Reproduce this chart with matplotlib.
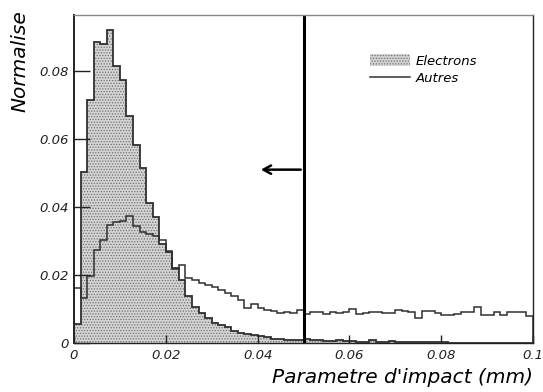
import numpy as np
import matplotlib
matplotlib.use("Agg")
import matplotlib.pyplot as plt
from matplotlib.patches import Patch
from matplotlib.lines import Line2D

# 70 bins from 0 to 0.1 mm
bord_bins = np.linspace(0, 0.1, 71)

electrons = [
    0.0055, 0.0502, 0.0716, 0.0887, 0.0880, 0.0922, 0.0814, 0.0775, 0.0668, 0.0582,
    0.0515, 0.0412, 0.0370, 0.0290, 0.0269, 0.0220, 0.0186, 0.0139, 0.0107, 0.0089,
    0.0073, 0.0060, 0.0053, 0.0046, 0.0036, 0.0030, 0.0027, 0.0024, 0.0020, 0.0017,
    0.0013, 0.0011, 0.0010, 0.0010, 0.0009, 0.0011, 0.0009, 0.0009, 0.0006, 0.0006,
    0.0009, 0.0006, 0.0006, 0.0004, 0.0004, 0.0009, 0.0004, 0.0004, 0.0007, 0.0003,
    0.0003, 0.0002, 0.0002, 0.0003, 0.0002, 0.0002, 0.0003, 0.0001, 0.0001, 0.0001,
    0.0001, 0.0001, 0.0001, 0.0001, 0.0001, 0.0001, 0.0001, 0.0001, 0.0001, 0.0001,
]

autres = [
    0.0162, 0.0132, 0.0196, 0.0274, 0.0302, 0.0348, 0.0355, 0.0358, 0.0375, 0.0343,
    0.0328, 0.0321, 0.0316, 0.0304, 0.0270, 0.0217, 0.0230, 0.0191, 0.0186, 0.0176,
    0.0171, 0.0166, 0.0156, 0.0147, 0.0139, 0.0127, 0.0102, 0.0115, 0.0102, 0.0097,
    0.0095, 0.0089, 0.0092, 0.0088, 0.0097, 0.0085, 0.0090, 0.0092, 0.0086, 0.0092,
    0.0088, 0.0090, 0.0099, 0.0086, 0.0088, 0.0090, 0.0090, 0.0088, 0.0088, 0.0097,
    0.0094, 0.0090, 0.0075, 0.0094, 0.0094, 0.0088, 0.0081, 0.0081, 0.0086, 0.0090,
    0.0090, 0.0105, 0.0083, 0.0083, 0.0090, 0.0083, 0.0090, 0.0092, 0.0090, 0.0080,
]

x_ticks = [0, 0.02, 0.04, 0.06, 0.08, 0.1]
x_labels = ["0", "0.02", "0.04", "0.06", "0.08", "0.1"]
y_ticks = [0, 0.02, 0.04, 0.06, 0.08]
y_labels = ["0", "0.02", "0.04", "0.06", "0.08"]

coupure = 0.05

plt.rcParams["hatch.linewidth"] = 0.6

fig = plt.figure(figsize=(5.43, 3.92), dpi=100)
ax = fig.add_axes([74 / 543, 49 / 392, 459 / 543, 328 / 392])

# histogramme electrons (rempli) et autres (ligne)
ax.stairs(electrons, bord_bins, fill=True, facecolor="#d4d4d4",
          edgecolor="#707070", hatch="......", lw=0)
ax.stairs(electrons, bord_bins, color="#303030", lw=1.3)
ax.stairs(autres, bord_bins, color="#303030", lw=1.1)

# coupure et fleche
ax.axvline(coupure, color="black", lw=2.2)
ax.annotate("", xy=(0.0401, 0.051), xytext=(coupure, 0.051),
            arrowprops=dict(arrowstyle="->,head_length=0.55,head_width=0.3",
                            lw=1.8, color="black"))

ax.set_xlim(0, 0.1)
ax.set_ylim(0, 0.0965)
ax.set_xticks(x_ticks)
ax.set_xticklabels(x_labels, fontstyle="italic", fontsize=9.5)
ax.set_yticks(y_ticks)
ax.set_yticklabels(y_labels, fontstyle="italic", fontsize=9.5)
ax.tick_params(axis="x", direction="in", length=6, width=1, pad=4)
ax.tick_params(axis="y", direction="in", length=11.5, width=1, pad=4)
ax.tick_params(colors="#222222")

for s in ["left", "bottom", "right"]:
    ax.spines[s].set_color("#222222")
    ax.spines[s].set_linewidth(1.0)
ax.spines["left"].set_linewidth(1.4)
ax.spines["top"].set_color("#888888")
ax.spines["top"].set_linewidth(1.0)

fig.text(533 / 543, 1 - 383 / 392, "Parametre d'impact (mm)", fontstyle="italic",
         fontsize=14.5, ha="right", va="baseline")
fig.text(20 / 543, 1 - 10 / 392, "Normalise", fontstyle="italic", fontsize=14.5,
         rotation=90, ha="center", va="top")

poignees = [
    Patch(facecolor="#d4d4d4", edgecolor="#707070", hatch="......", lw=0),
    Line2D([0], [0], color="#303030", lw=1.1),
]
ax.legend(poignees, ["Electrons", "Autres"], loc="upper left",
          bbox_to_anchor=(361 / 543, 1 - 45 / 392), bbox_transform=fig.transFigure,
          frameon=False, prop={"style": "italic", "size": 9.5},
          handlelength=3.0, handleheight=1.0, handletextpad=0.45,
          labelspacing=0.3, borderpad=0.2)

fig.savefig("out.png", dpi=100)
